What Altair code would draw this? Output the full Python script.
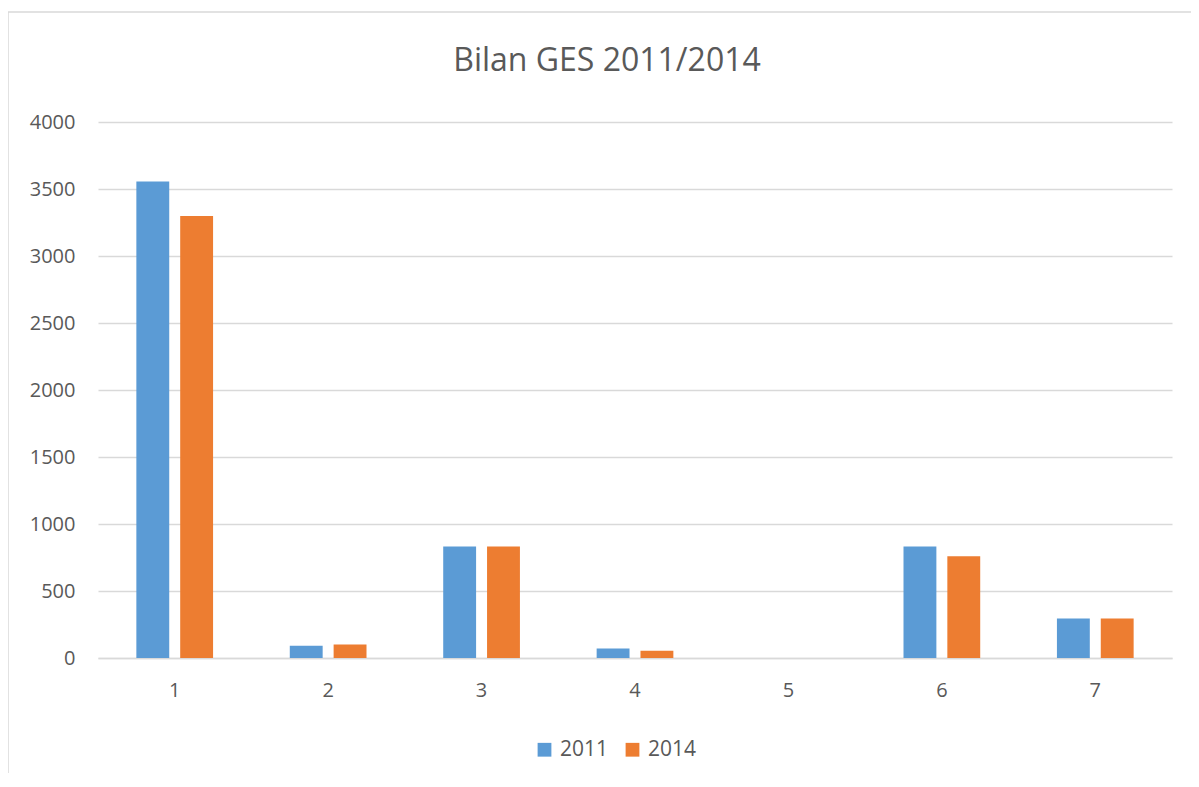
import altair as alt
import pandas as pd

categories = ["1", "2", "3", "4", "5", "6", "7"]
values_2011 = [3556, 92, 832, 70, 0, 832, 295]
values_2014 = [3298, 100, 832, 55, 0, 760, 295]
years = ["2011", "2014"]
colors = ["#5B9BD5", "#ED7D31"]
y_ticks = [0, 500, 1000, 1500, 2000, 2500, 3000, 3500, 4000]

rows = []
for c, a, b in zip(categories, values_2011, values_2014):
    rows.append({"cat": c, "year": "2011", "value": a})
    rows.append({"cat": c, "year": "2014", "value": b})
df = pd.DataFrame(rows)

FONT = "Open Sans"
TXT = "#595959"
GRID = "#d9d9d9"

bars = alt.Chart(df).mark_bar().encode(
    x=alt.X("cat:O", sort=categories,
            scale=alt.Scale(paddingInner=0.5, paddingOuter=0.25),
            axis=alt.Axis(title=None, labelAngle=0, ticks=False, domain=True,
                          domainColor=GRID, domainWidth=1.3, labelPadding=22,
                          labelFontSize=20, labelColor=TXT, labelFont=FONT, grid=False)),
    xOffset=alt.XOffset("year:N", sort=years,
                        scale=alt.Scale(paddingInner=0.25, paddingOuter=0)),
    y=alt.Y("value:Q", scale=alt.Scale(domain=[0, 4000]),
            axis=alt.Axis(values=y_ticks, format="d", title=None, domain=False, ticks=False,
                          gridColor=GRID, gridWidth=1.3, labelPadding=23,
                          labelFontSize=20, labelColor=TXT, labelFont=FONT)),
    color=alt.Color("year:N", sort=years,
                    scale=alt.Scale(domain=years, range=colors),
                    legend=alt.Legend(orient="none", legendX=436, legendY=617,
                                      direction="horizontal", title=None,
                                      symbolType="square", symbolSize=190,
                                      symbolStrokeWidth=0,
                                      labelFontSize=21, labelColor=TXT, labelFont=FONT,
                                      labelOffset=5, columnPadding=13)),
)

frame_src = pd.DataFrame({"k": [0]})
top_rule = alt.Chart(frame_src).mark_rule(color=GRID, strokeWidth=1.5).encode(
    x=alt.value(-90), x2=alt.value(1120), y=alt.value(-110))
left_rule = alt.Chart(frame_src).mark_rule(color=GRID, strokeWidth=1.5).encode(
    x=alt.value(-90), y=alt.value(-110), y2=alt.value(700))

chart = alt.layer(bars, top_rule, left_rule).properties(
    width=1074, height=536,
    title=alt.TitleParams("Bilan GES 2011/2014", font=FONT, fontSize=32,
                          fontWeight="normal", color=TXT, anchor="middle",
                          baseline="alphabetic", dx=-28, offset=-92),
    autosize=alt.AutoSizeParams(type="none"),
    padding={"left": 90, "top": 114, "right": 19, "bottom": 115},
).configure_view(stroke=None)

chart.save("out.html", embed_options={"renderer": "svg", "actions": False})
